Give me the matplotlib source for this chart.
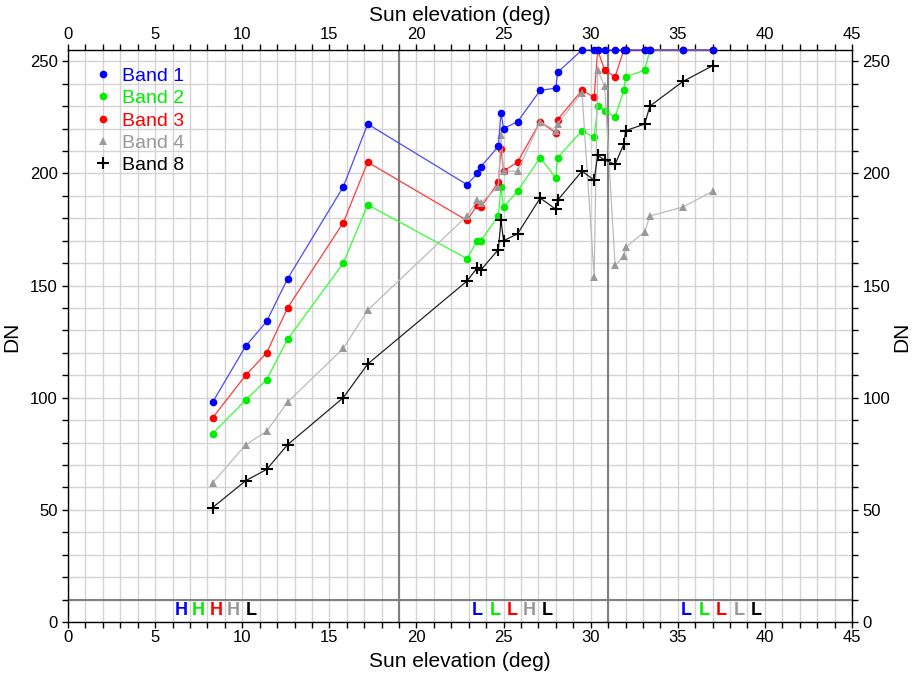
import matplotlib
matplotlib.use("Agg")
import matplotlib.pyplot as plt
from matplotlib.lines import Line2D
from matplotlib.ticker import MultipleLocator

plt.rcParams['font.family'] = ['Liberation Sans', 'DejaVu Sans']

# sun elevation of each scene (deg) and saturating DN per band
sun_elev = [8.3, 10.2, 11.4, 12.6, 15.8, 17.2, 22.9, 23.5, 23.7, 24.7, 24.85,
            25.0, 25.8, 27.1, 28.0, 28.1, 29.5, 30.2, 30.4, 30.8, 31.4, 31.9,
            32.0, 33.1, 33.4, 35.3, 37.0]
band1 = [98, 123, 134, 153, 194, 222, 195, 200, 203, 212, 227, 220, 223, 237,
         238, 245, 255, 255, 255, 255, 255, 255, 255, 255, 255, 255, 255]
band2 = [84, 99, 108, 126, 160, 186, 162, 170, 170, 181, 194, 185, 192, 207,
         198, 207, 219, 216, 230, 228, 225, 237, 243, 246, 255, 255, 255]
band3 = [91, 110, 120, 140, 178, 205, 179, 186, 185, 196, 211, 201, 205, 223,
         218, 224, 237, 234, 255, 246, 243, 255, 255, 255, 255, 255, 255]
band4 = [62, 79, 85, 98, 122, 139, 181, 188, 187, 194, 217, 201, 201, 223,
         219, 222, 236, 154, 246, 239, 159, 163, 167, 174, 181, 185, 192]
band8 = [51, 63, 68, 79, 100, 115, 152, 158, 157, 166, 179, 170, 173, 189,
         184, 188, 201, 197, 208, 206, 204, 213, 219, 222, 230, 241, 248]

band_names = ["Band 1", "Band 2", "Band 3", "Band 4", "Band 8"]
gain_low = ["H", "H", "H", "H", "L"]
gain_mid = ["L", "L", "L", "H", "L"]
gain_high = ["L", "L", "L", "L", "L"]
gain_x0 = [6.5, 23.5, 35.5]
breaks = [19, 31]

colors = ["#0000ff", "#00ee00", "#ff0000", "#999999", "#000000"]
line_colors = ["#4a4aff", "#33ff33", "#ff3a3a", "#bbbbbb", "#222222"]
markers = ["o", "o", "o", "^", "+"]
# band 1 sits on top where everything saturates at 255
zorders = [8, 4, 5, 6, 7]

fig = plt.figure(figsize=(9.13, 6.73), dpi=100)
ax = fig.add_axes([0.0745, 0.0758, 0.8587, 0.8499])

series = [band1, band2, band3, band4, band8]
for vals, c, lc, m, z in zip(series, colors, line_colors, markers, zorders):
    ax.plot(sun_elev, vals, color=lc, lw=0.9, zorder=z, clip_on=False)
    if m == "+":
        ax.plot(sun_elev, vals, ls="none", marker=m, ms=8, mew=1.5,
                color=c, zorder=z + 0.5, clip_on=False)
    else:
        ax.plot(sun_elev, vals, ls="none", marker=m, ms=5.5, mew=0,
                color=c, zorder=z + 0.5, clip_on=False)

ax.set_xlim(0, 45)
ax.set_ylim(0, 255)
ax.xaxis.set_major_locator(MultipleLocator(5))
ax.xaxis.set_minor_locator(MultipleLocator(1))
ax.yaxis.set_major_locator(MultipleLocator(50))
ax.yaxis.set_minor_locator(MultipleLocator(10))
ax.grid(which="both", color="#d4d4d4", lw=1, zorder=0)
ax.set_axisbelow(True)

# gain state boundaries
ax.axhline(10, color="#808080", lw=1.5, zorder=2)
for b in breaks:
    ax.axvline(b, color="#808080", lw=1.5, zorder=2)

# gain letters per band in each sun elevation range
for x0, gains in zip(gain_x0, [gain_low, gain_mid, gain_high]):
    for i, (g, c) in enumerate(zip(gains, colors)):
        ax.text(x0 + i, 5, g, color=c, ha="center", va="center",
                fontsize=13, fontweight="bold", zorder=10)

ax.tick_params(which="both", direction="out", length=4, width=1,
               top=True, right=True, labeltop=True, labelright=True,
               labelsize=12)
ax.tick_params(axis="x", pad=1.5)
for sp in ax.spines.values():
    sp.set_linewidth(1)

# axis titles on all four sides
fig.text(0.5035, 0.0165, "Sun elevation (deg)", fontsize=15,
         ha="center", va="center")
fig.text(0.5035, 0.977, "Sun elevation (deg)", fontsize=15,
         ha="center", va="center")
fig.text(0.013, 0.5, "DN", fontsize=15, rotation=90, ha="center", va="center")
fig.text(0.988, 0.5, "DN", fontsize=15, rotation=90, ha="center", va="center")

handles = []
for c, m in zip(colors, markers):
    if m == "+":
        handles.append(Line2D([], [], ls="none", marker=m, ms=8, mew=1.5, color=c))
    else:
        handles.append(Line2D([], [], ls="none", marker=m, ms=5.5, mew=0, color=c))
leg = ax.legend(handles, band_names, loc="upper left",
                bbox_to_anchor=(0.02, 0.99), frameon=False, fontsize=14,
                handlelength=0.8, handletextpad=0.55, labelspacing=0.24,
                borderaxespad=0.2)
leg.set_zorder(12)
for t, c in zip(leg.get_texts(), colors):
    t.set_color(c)

fig.savefig("out.png", dpi=100)
